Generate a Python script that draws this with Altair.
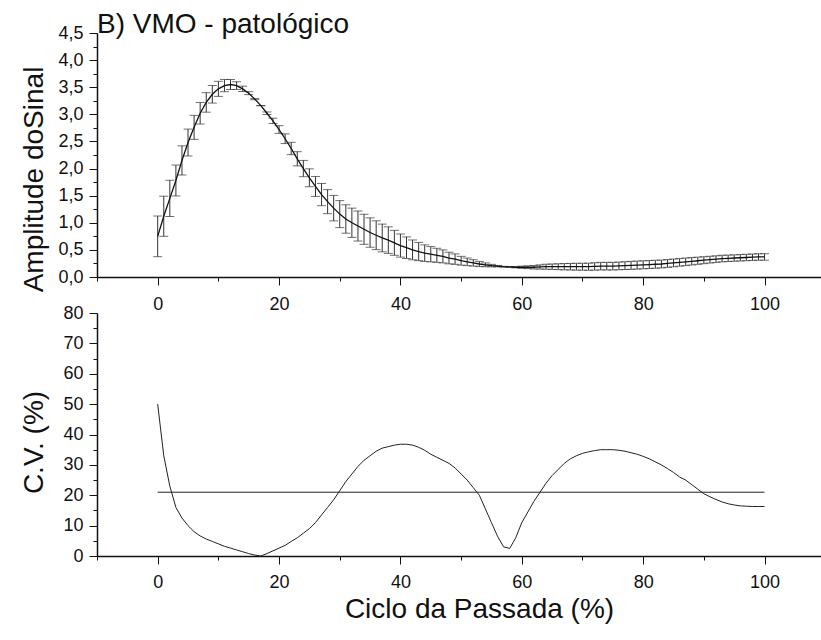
import altair as alt
import pandas as pd

# ---------------- data ----------------
x_pct = list(range(101))

amp_mean = [
    0.75, 1.12, 1.45, 1.78, 2.15, 2.48, 2.76, 3.02, 3.22, 3.37,
    3.47, 3.53, 3.55, 3.53, 3.47, 3.39, 3.28, 3.16, 3.02, 2.88,
    2.72, 2.55, 2.37, 2.18, 2.00, 1.83, 1.67, 1.52, 1.39, 1.27,
    1.16, 1.07, 1.00, 0.94, 0.88, 0.82, 0.77, 0.72, 0.68, 0.63,
    0.58, 0.54, 0.50, 0.47, 0.44, 0.42, 0.40, 0.38, 0.35, 0.33,
    0.30, 0.28, 0.26, 0.24, 0.225, 0.21, 0.20, 0.19, 0.185, 0.18,
    0.18, 0.18, 0.18, 0.185, 0.19, 0.19, 0.19, 0.19, 0.19, 0.19,
    0.19, 0.19, 0.195, 0.20, 0.20, 0.20, 0.205, 0.21, 0.215, 0.22,
    0.225, 0.23, 0.235, 0.24, 0.25, 0.26, 0.27, 0.28, 0.29, 0.30,
    0.31, 0.32, 0.33, 0.34, 0.345, 0.35, 0.355, 0.36, 0.365, 0.37, 0.37,
]

amp_sd = [
    0.375, 0.370, 0.334, 0.285, 0.269, 0.248, 0.221, 0.199, 0.180, 0.162,
    0.139, 0.113, 0.092, 0.071, 0.049, 0.027, 0.010, 0.000, 0.024, 0.049,
    0.071, 0.089, 0.114, 0.131, 0.150, 0.165, 0.184, 0.205, 0.222, 0.235,
    0.249, 0.262, 0.270, 0.277, 0.277, 0.271, 0.266, 0.256, 0.245, 0.230,
    0.213, 0.199, 0.183, 0.168, 0.153, 0.141, 0.130, 0.120, 0.107, 0.096,
    0.081, 0.070, 0.059, 0.048, 0.035, 0.023, 0.013, 0.006, 0.005, 0.011,
    0.020, 0.026, 0.032, 0.039, 0.046, 0.050, 0.054, 0.058, 0.061, 0.063,
    0.064, 0.065, 0.068, 0.070, 0.070, 0.070, 0.071, 0.072, 0.073, 0.074,
    0.074, 0.074, 0.073, 0.072, 0.072, 0.072, 0.070, 0.070, 0.068, 0.066,
    0.064, 0.062, 0.061, 0.061, 0.059, 0.059, 0.059, 0.059, 0.059, 0.060, 0.060,
]

cv_pct = [
    50, 33, 23, 16, 12.5, 10, 8, 6.6, 5.6, 4.8,
    4, 3.2, 2.6, 2, 1.4, 0.8, 0.3, 0, 0.8, 1.7,
    2.6, 3.5, 4.8, 6, 7.5, 9, 11, 13.5, 16, 18.5,
    21.5, 24.5, 27, 29.5, 31.5, 33, 34.5, 35.5, 36, 36.5,
    36.8, 36.8, 36.5, 35.8, 34.8, 33.5, 32.5, 31.5, 30.5, 29,
    27, 25, 22.5, 20, 15.5, 11, 6.5, 3, 2.5, 6,
    11, 14.5, 18, 21, 24, 26.5, 28.5, 30.5, 32, 33,
    33.8, 34.3, 34.7, 35, 35, 35, 34.8, 34.5, 34, 33.5,
    32.8, 32, 31, 30, 28.8, 27.5, 26, 25, 23.5, 22,
    20.5, 19.5, 18.6, 17.8, 17.2, 16.8, 16.5, 16.4, 16.3, 16.3, 16.3,
]

cv_media = [21.0]

title_text = "B) VMO - patológico"
y_title_top = "Amplitude doSinal"
y_title_bottom = "C.V. (%)"
x_title = "Ciclo da Passada (%)"

x_major = [0, 20, 40, 60, 80, 100]
x_minor = [-10, 10, 30, 50, 70, 90]
amp_major = [0, 0.5, 1.0, 1.5, 2.0, 2.5, 3.0, 3.5, 4.0, 4.5]
amp_minor = [0.25, 0.75, 1.25, 1.75, 2.25, 2.75, 3.25, 3.75, 4.25]
cv_major = [0, 10, 20, 30, 40, 50, 60, 70, 80]
cv_minor = [5, 15, 25, 35, 45, 55, 65, 75]

# ---------------- layout ----------------
W, H = 724, 523
TOP_H = 244
BOT_TOP = 280
XDOM = [-10, 109.3]
FONT = "Liberation Sans"
INK = "#111111"

df_amp = pd.DataFrame({"x": x_pct, "m": amp_mean, "sd": amp_sd})
df_amp["lo"] = df_amp["m"] - df_amp["sd"]
df_amp["hi"] = df_amp["m"] + df_amp["sd"]
df_cv = pd.DataFrame({"x": x_pct, "cv": cv_pct})
df_mean = pd.DataFrame({"x0": [x_pct[0]], "x1": [x_pct[-1]], "cv": cv_media})
df_title = pd.DataFrame({"t": [title_text]})

xscale = alt.Scale(domain=XDOM, nice=False, zero=False)
ytop = alt.Scale(domain=[0, 4.5], range=[TOP_H, 0], nice=False, zero=False)
ybot = alt.Scale(domain=[0, 80], range=[H, BOT_TOP], nice=False, zero=False)

common = dict(
    grid=False, domainColor=INK, tickColor=INK, labelColor=INK, titleColor=INK,
    labelFont=FONT, labelFontSize=18, titleFont=FONT, titleFontSize=28,
    titleFontWeight="normal", labelOverlap=False, labelFlush=False,
    tickWidth=1,
)

def minor_axis(orient, values, offset=0):
    return alt.Axis(orient=orient, values=values, labels=False, domain=False,
                    tickSize=4, tickColor=INK, tickWidth=1, grid=False,
                    title=None, offset=offset)

ax_top_y = alt.Axis(orient="left", values=amp_major, tickSize=8, labelPadding=6,
                    labelExpr="replace(format(datum.value, '.1f'), '.', ',')",
                    domainWidth=1.5, title=y_title_top, titleAngle=270,
                    titleX=-55, titleY=146, titleAlign="center",
                    titleBaseline="alphabetic", **common)
ax_top_x = alt.Axis(orient="bottom", values=x_major, tickSize=8, labelPadding=10,
                    format="d", domainWidth=1.5, title=None,
                    offset=-(H - TOP_H), **common)
ax_bot_y = alt.Axis(orient="left", values=cv_major, tickSize=8, labelPadding=6,
                    format="d", domainWidth=1.5, title=y_title_bottom, titleAngle=270,
                    titleX=-55, titleY=409, titleAlign="center",
                    titleBaseline="alphabetic", **common)
ax_bot_x = alt.Axis(orient="bottom", values=x_major, tickSize=8, labelPadding=9,
                    format="d", domainWidth=1.5, title=x_title, titleX=382,
                    titleY=61, titleAlign="center", titleBaseline="alphabetic",
                    titleAngle=0, **common)

base_amp = alt.Chart(df_amp)

bars = base_amp.mark_rule(color="#333333", strokeWidth=1).encode(
    x=alt.X("x:Q", scale=xscale, axis=ax_top_x),
    y=alt.Y("lo:Q", scale=ytop, axis=ax_top_y),
    y2="hi:Q",
)
cap_lo = base_amp.mark_tick(orient="horizontal", size=9, thickness=1, color="#333333").encode(
    x=alt.X("x:Q", scale=xscale, axis=minor_axis("bottom", x_minor, -(H - TOP_H))),
    y=alt.Y("lo:Q", scale=ytop, axis=minor_axis("left", amp_minor)),
)
cap_hi = base_amp.mark_tick(orient="horizontal", size=9, thickness=1, color="#333333").encode(
    x=alt.X("x:Q", scale=xscale, axis=None),
    y=alt.Y("hi:Q", scale=ytop, axis=None),
)
mean_line = base_amp.mark_line(color=INK, strokeWidth=1.3).encode(
    x=alt.X("x:Q", scale=xscale, axis=None),
    y=alt.Y("m:Q", scale=ytop, axis=None),
)
title_mark = alt.Chart(df_title).mark_text(
    align="left", baseline="alphabetic", font=FONT, fontSize=28, color=INK
).encode(text="t:N", x=alt.value(0), y=alt.value(0))

cv_line = alt.Chart(df_cv).mark_line(color="#222222", strokeWidth=1).encode(
    x=alt.X("x:Q", scale=xscale, axis=ax_bot_x),
    y=alt.Y("cv:Q", scale=ybot, axis=ax_bot_y),
)
cv_rule = alt.Chart(df_mean).mark_rule(color="#222222", strokeWidth=1).encode(
    x=alt.X("x0:Q", scale=xscale, axis=minor_axis("bottom", x_minor)),
    x2="x1:Q",
    y=alt.Y("cv:Q", scale=ybot, axis=minor_axis("left", cv_minor)),
)

chart = alt.layer(
    bars, cap_lo, cap_hi, mean_line, title_mark, cv_line, cv_rule
).resolve_scale(x="independent", y="independent").resolve_axis(
    x="independent", y="independent"
).properties(
    width=W, height=H,
    autosize=alt.AutoSizeParams(type="none"),
    padding={"left": 97, "top": 33, "right": 0, "bottom": 84},
    background="white",
).configure_view(stroke=None)

chart.save("out.html", embed_options={"renderer": "svg", "actions": False})
